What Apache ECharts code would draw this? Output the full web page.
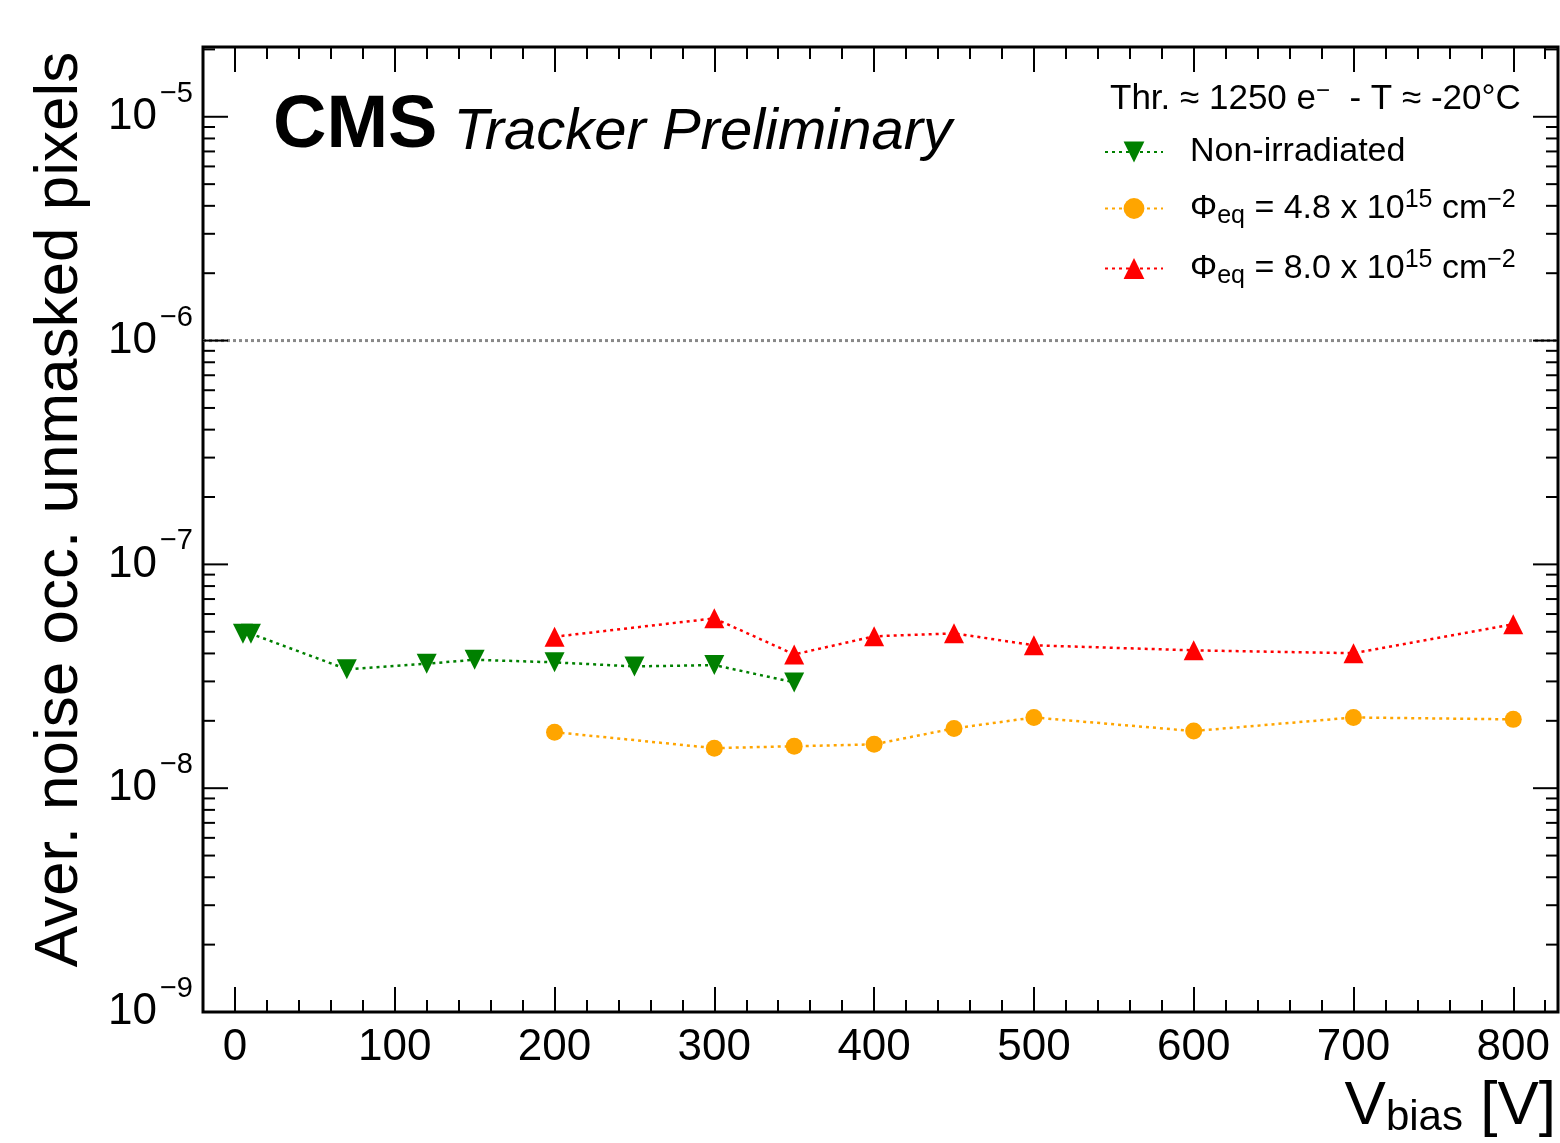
<!DOCTYPE html>
<html><head><meta charset="utf-8">
<script src="https://cdn.jsdelivr.net/npm/echarts@6/dist/echarts.min.js"></script>
<style>html,body{margin:0;padding:0;background:#fff}#c{width:1560px;height:1143px}</style>
</head><body><div id="c"></div>
<script>
// ---- data ----
const vNonIrr  = [5, 10, 70, 120, 150, 200, 250, 300, 350];
const occNonIrr = [4.9e-8, 4.9e-8, 3.4e-8, 3.6e-8, 3.75e-8, 3.65e-8, 3.5e-8, 3.55e-8, 2.97e-8];
const vIrr     = [200, 300, 350, 400, 450, 500, 600, 700, 800];
const occ48    = [1.78e-8, 1.51e-8, 1.54e-8, 1.57e-8, 1.85e-8, 2.07e-8, 1.80e-8, 2.07e-8, 2.03e-8];
const occ80    = [4.75e-8, 5.74e-8, 3.96e-8, 4.77e-8, 4.92e-8, 4.35e-8, 4.13e-8, 4.01e-8, 5.40e-8];
const xMajorTicks = [0, 100, 200, 300, 400, 500, 600, 700, 800];
const yMajorTicks = [1e-9, 1e-8, 1e-7, 1e-6, 1e-5];
const yMinorMantissas = [2, 3, 4, 5, 6, 7, 8, 9];
const yMinorDecades = [1e-9, 1e-8, 1e-7, 1e-6, 1e-5];
const refLevel = 1e-6;
const seriesNames = ['Non-irradiated', 'Phi 4.8e15', 'Phi 8.0e15'];
const legendLabels = {
  'Non-irradiated': '{t|Non-irradiated}',
  'Phi 4.8e15': '{t|Φ}{sub|eq}{t| = 4.8 x 10}{sup|15}{t| cm}{sup|−2}',
  'Phi 8.0e15': '{t|Φ}{sub|eq}{t| = 8.0 x 10}{sup|15}{t| cm}{sup|−2}'
};

const X_MIN = -20, X_MAX = 828, Y_MIN = 1e-9, Y_MAX = 2.05e-5;
const FONT = '"Liberation Sans", Arial, Helvetica, sans-serif';

// tick list for the log axes: [value, length]
const yTicks = yMajorTicks.map(v => [v, 25]);
yMinorDecades.forEach(d => yMinorMantissas.forEach(m => { if (m * d < Y_MAX) yTicks.push([m * d, 12]); }));

const pair = (xs, ys) => xs.map((x, i) => [x, ys[i]]);
const dotted = [3, 4];

const xBase = {
  type: 'value', min: X_MIN, max: X_MAX, gridIndex: 0,
  axisLine: { show: false }, splitLine: { show: false }
};
const xMinor = pos => Object.assign({}, xBase, {
  position: pos, interval: 20,
  axisTick: { inside: true, length: 12, lineStyle: { color: '#000', width: 2 } },
  axisLabel: { show: false }
});
const xMajor = (pos, labels) => Object.assign({}, xBase, {
  position: pos,
  axisTick: { inside: true, length: 25, customValues: xMajorTicks, lineStyle: { color: '#000', width: 2 } },
  axisLabel: labels ? { show: true, customValues: xMajorTicks, fontSize: 44, fontFamily: FONT, color: '#000', margin: 14 } : { show: false }
});

const yBase = pos => ({
  type: 'log', logBase: 10, min: Y_MIN, max: Y_MAX, position: pos,
  axisLine: { show: false }, splitLine: { show: false },
  axisTick: { show: false },
  axisLabel: { show: false }
});

const yLeft = yBase('left');
yLeft.axisLabel = {
  show: true, margin: 10, fontFamily: FONT, color: '#000',
  formatter: v => {
    const e = Math.log10(v);
    if (Math.abs(e - Math.round(e)) > 1e-6) return '';
    return '{b|10}{s|−' + Math.abs(Math.round(e)) + '}';
  },
  rich: {
    b: { fontSize: 44, fontFamily: FONT, color: '#000' },
    s: { fontSize: 29, fontFamily: FONT, color: '#000', padding: [0, 0, 46, 3] }
  }
};
yLeft.name = 'Aver. noise occ. unmasked pixels';
yLeft.nameLocation = 'middle';
yLeft.nameRotate = 90;
yLeft.nameGap = 112;
yLeft.nameTextStyle = { fontSize: 62, fontFamily: FONT, color: '#000', padding: [0, 0, 0, 40] };

const xMain = xMajor('bottom', true);
xMain.name = '{v|V}{sub|bias}{v| [V]}';
xMain.nameLocation = 'end';
xMain.nameGap = -2;
xMain.nameTextStyle = {
  align: 'right', verticalAlign: 'top', padding: [64, 0, 0, 0],
  rich: {
    v: { fontSize: 62, lineHeight: 62, fontFamily: FONT, color: '#000' },
    sub: { fontSize: 42, lineHeight: 40, fontFamily: FONT, color: '#000', padding: [22, 0, 0, 0] }
  }
};

const chart = echarts.init(document.getElementById('c'), null, { renderer: 'canvas' });
chart.setOption({
  animation: false,
  backgroundColor: '#fff',
  textStyle: { fontFamily: FONT },
  grid: { left: 203, right: 2, top: 47, bottom: 131, show: true, borderColor: '#000', borderWidth: 3, backgroundColor: 'transparent' },
  title: [
    {
      left: 273, top: 90, padding: 0,
      text: '{b|CMS}{i| Tracker Preliminary}',
      textStyle: {
        fontWeight: 'normal',
        rich: {
          b: { fontSize: 74, lineHeight: 74, fontWeight: 'bold', fontFamily: FONT, color: '#000' },
          i: { fontSize: 58, lineHeight: 58, fontWeight: 'normal', fontStyle: 'italic', fontFamily: FONT, color: '#000', padding: [11, 0, 0, 0] }
        }
      }
    },
    {
      left: 1110, top: 79, padding: 0,
      text: '{t|Thr. ≈ 1250 e}{sup|−}{t|  - T ≈ -20°C}',
      textStyle: {
        fontWeight: 'normal',
        rich: {
          t: { fontSize: 35, lineHeight: 40, fontWeight: 'normal', fontFamily: FONT, color: '#000' },
          sup: { fontSize: 24, lineHeight: 24, fontWeight: 'normal', fontFamily: FONT, color: '#000', padding: [0, 0, 16, 0] }
        }
      }
    }
  ],
  legend: {
    orient: 'vertical', left: 1104, top: 135, padding: 0,
    itemWidth: 58, itemHeight: 26, itemGap: 19,
    data: seriesNames,
    formatter: name => legendLabels[name],
    textStyle: {
      padding: [0, 0, 0, 22],
      rich: {
        t: { fontSize: 34, lineHeight: 40, fontFamily: FONT, color: '#000' },
        sup: { fontSize: 25, lineHeight: 24, fontFamily: FONT, color: '#000', padding: [0, 0, 16, 0] },
        sub: { fontSize: 25, lineHeight: 24, fontFamily: FONT, color: '#000', padding: [16, 0, 0, 0] }
      }
    }
  },
  xAxis: [xMinor('bottom'), xMain, xMinor('top'), xMajor('top', false)],
  yAxis: [yLeft, yBase('right')],
  series: [
    {
      name: 'reference', type: 'line', xAxisIndex: 0, yAxisIndex: 0, silent: true,
      data: [[X_MIN, refLevel], [X_MAX, refLevel]],
      showSymbol: false, symbol: 'none',
      lineStyle: { color: '#888', width: 3, type: [3, 3] },
      z: 2
    },
    {
      name: seriesNames[0], type: 'line', xAxisIndex: 0, yAxisIndex: 0,
      data: pair(vNonIrr, occNonIrr),
      symbol: 'triangle', symbolSize: 20, symbolRotate: 180, showSymbol: true,
      itemStyle: { color: '#008000' },
      lineStyle: { color: '#008000', width: 2.5, type: dotted },
      z: 5
    },
    {
      name: seriesNames[1], type: 'line', xAxisIndex: 0, yAxisIndex: 0,
      data: pair(vIrr, occ48),
      symbol: 'circle', symbolSize: 17,
      itemStyle: { color: '#FFA500' },
      lineStyle: { color: '#FFA500', width: 2.5, type: dotted },
      z: 5
    },
    {
      name: seriesNames[2], type: 'line', xAxisIndex: 0, yAxisIndex: 0,
      data: pair(vIrr, occ80),
      symbol: 'triangle', symbolSize: 20,
      itemStyle: { color: '#FF0000' },
      lineStyle: { color: '#FF0000', width: 2.5, type: dotted },
      z: 5
    },
    {
      name: 'yTicks', type: 'custom', xAxisIndex: 0, yAxisIndex: 0, silent: true,
      data: yTicks.map(t => [X_MIN, t[0], t[1]]),
      encode: { x: 0, y: 1 },
      renderItem: (params, api) => {
        const v = api.value(1);
        const len = api.value(2);
        const p0 = api.coord([X_MIN, v]);
        const p1 = api.coord([X_MAX, v]);
        return {
          type: 'group', children: [
            { type: 'line', shape: { x1: p0[0], y1: p0[1], x2: p0[0] + len, y2: p0[1] }, style: { stroke: '#000', lineWidth: 2 } },
            { type: 'line', shape: { x1: p1[0], y1: p1[1], x2: p1[0] - len, y2: p1[1] }, style: { stroke: '#000', lineWidth: 2 } }
          ]
        };
      },
      z: 3
    }
  ]
});
</script>
</body></html>
